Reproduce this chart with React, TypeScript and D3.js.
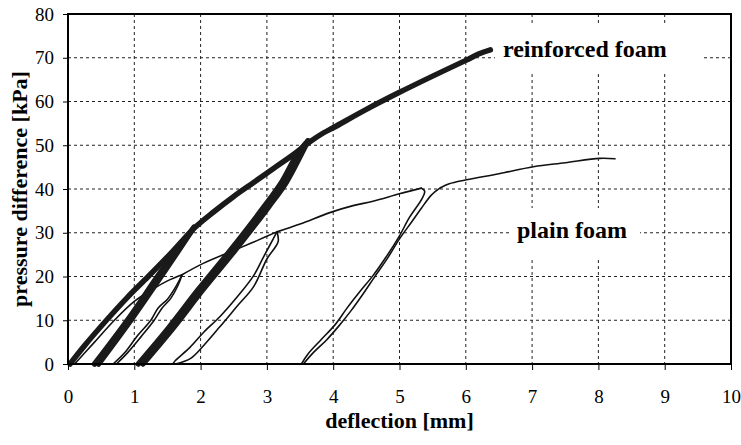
import React, { useEffect, useRef } from 'react';
import * as d3 from 'd3';

type Pt = [number, number];

const xTicks = [0, 1, 2, 3, 4, 5, 6, 7, 8, 9, 10];
const yTicks = [0, 10, 20, 30, 40, 50, 60, 70, 80];

// reinforced foam (thick traces)
const reinforcedEnvelope: Pt[] = [[0.03, 0], [0.25, 4.2], [0.58, 10], [0.9, 15.3], [1.21, 20], [1.55, 25.3], [1.9, 31], [2.2, 34.8], [2.5, 38.3], [2.8, 41.5], [3.1, 44.7], [3.4, 47.9], [3.65, 50.8], [3.85, 52.8], [4.0, 54.0], [4.5, 58.2], [5.0, 62.1], [5.5, 65.8], [6.0, 69.4], [6.2, 70.9], [6.37, 71.8]];
const reinforcedUnload1: Pt[] = [[1.9, 31.2], [1.42, 21.5], [0.92, 10.5], [0.4, 0]];
const reinforcedReload1: Pt[] = [[0.46, 0], [0.97, 10.5], [1.47, 21.5], [1.9, 31.2]];
const reinforcedUnload2: Pt[] = [[3.62, 51], [3.46, 48], [3.22, 41.5], [2.96, 36], [2.45, 26], [1.96, 16.9], [1.52, 8.3], [1.06, 0]];
const reinforcedReload2: Pt[] = [[1.13, 0], [1.59, 8.3], [2.03, 16.9], [2.52, 26], [3.03, 36], [3.29, 41.5], [3.52, 48], [3.62, 51]];

// plain foam (thin traces)
const plainLoad1: Pt[] = [[0.1, 0], [0.4, 5], [0.7, 10], [1.0, 14.3], [1.3, 17.3], [1.5, 19], [1.72, 20.4]];
const plainUnload1: Pt[] = [[1.72, 20.4], [1.62, 17.5], [1.5, 14.8], [1.36, 12.8], [1.25, 10], [1.05, 6.5], [0.85, 2.5], [0.68, 0]];
const plainReload1: Pt[] = [[0.73, 0], [0.9, 2.6], [1.1, 6.2], [1.3, 10], [1.42, 12.8], [1.55, 15], [1.66, 18], [1.72, 20.4]];
const plainLoad2: Pt[] = [[1.72, 20.4], [2.04, 23], [2.54, 26.2], [2.85, 28.2], [3.15, 30.2]];
const plainUnload2: Pt[] = [[3.15, 30.2], [3.17, 28], [3.0, 24], [2.8, 17.7], [2.55, 13.2], [2.29, 8.5], [2.05, 4.3], [1.85, 1.3], [1.62, 0]];
const plainReload2: Pt[] = [[1.58, 0], [1.62, 0.8], [1.84, 3.8], [2.05, 7.3], [2.29, 10.8], [2.55, 15.3], [2.8, 20.2], [2.95, 24.5], [3.06, 27.6], [3.15, 30.2]];
const plainLoad3: Pt[] = [[3.15, 30.2], [3.5, 32], [3.95, 34.6], [4.3, 36.2], [4.6, 37.2], [5.0, 38.9], [5.33, 40.2]];
const plainUnload3: Pt[] = [[5.33, 40.2], [5.38, 39.5], [5.34, 37.8], [5.15, 33.5], [5.0, 29.3], [4.8, 24.5], [4.6, 20.2], [4.4, 16.5], [4.2, 12.6], [4.03, 9], [3.82, 5.6], [3.62, 2.3], [3.52, 0]];
const plainReload3: Pt[] = [[3.55, 0], [3.7, 2.6], [3.9, 5.5], [4.08, 8.6], [4.27, 12.2], [4.45, 16], [4.62, 19.8], [4.82, 24.2], [5.0, 28.6], [5.18, 32.4], [5.33, 35.6], [5.48, 38.6], [5.62, 40.3]];
const plainLoad4: Pt[] = [[5.62, 40.3], [5.75, 41.2], [6.01, 42.1], [6.5, 43.5], [7.02, 45.1], [7.5, 46], [8.02, 47.0], [8.25, 46.9]];

const reinforcedSeries = [reinforcedEnvelope, reinforcedUnload1, reinforcedReload1, reinforcedUnload2, reinforcedReload2];
const plainSeries = [plainLoad1, plainUnload1, plainReload1, plainLoad2, plainUnload2, plainReload2, plainLoad3, plainUnload3, plainReload3, plainLoad4];

export default function App() {
  const svgRef = useRef<SVGSVGElement>(null);
  const width = 741;
  const height = 445;
  const left = 68, right = 731, top = 14, bottom = 364;

  function draw(elm: SVGSVGElement) {
    const svg = d3.select(elm);
    svg.selectAll('*').remove();

    const x = d3.scaleLinear().domain([0, 10]).range([left, right]);
    const y = d3.scaleLinear().domain([0, 80]).range([bottom, top]);
    const serif = 'Liberation Serif';

    // grid
    const grid = svg.append('g').attr('stroke', '#222').attr('stroke-width', 1).attr('stroke-dasharray', '3,3');
    grid.selectAll('line.v').data(xTicks.slice(1, -1)).enter().append('line')
      .attr('x1', d => x(d)).attr('x2', d => x(d)).attr('y1', top).attr('y2', bottom);
    grid.selectAll('line.h').data(yTicks.slice(1, -1)).enter().append('line')
      .attr('x1', left).attr('x2', right).attr('y1', d => y(d)).attr('y2', d => y(d));

    // label backgrounds hide the grid
    svg.append('rect').attr('x', 495).attr('y', 25).attr('width', 206).attr('height', 47).attr('fill', 'white');
    svg.append('rect').attr('x', 510).attr('y', 208).attr('width', 130).attr('height', 49).attr('fill', 'white');

    const line = d3.line<Pt>().x(d => x(d[0])).y(d => y(d[1])).curve(d3.curveCatmullRom.alpha(0.5));

    svg.append('g').selectAll('path').data(plainSeries).enter().append('path')
      .attr('d', d => line(d))
      .attr('fill', 'none').attr('stroke', '#111').attr('stroke-width', 1.6)
      .attr('stroke-linejoin', 'round').attr('stroke-linecap', 'round');

    svg.append('g').selectAll('path').data(reinforcedSeries).enter().append('path')
      .attr('d', d => line(d))
      .attr('fill', 'none').attr('stroke', '#1a1a1a').attr('stroke-width', 5.5)
      .attr('stroke-linejoin', 'round').attr('stroke-linecap', 'round');

    // frame
    svg.append('rect').attr('x', left).attr('y', top).attr('width', right - left).attr('height', bottom - top)
      .attr('fill', 'none').attr('stroke', '#000').attr('stroke-width', 2);

    // ticks
    const xAxis = svg.append('g').attr('transform', `translate(0,${bottom})`)
      .attr('font-family', serif).attr('font-size', 19)
      .call(d3.axisBottom(x).tickValues(xTicks).tickSize(6).tickPadding(20).tickFormat(d3.format('d')));
    xAxis.attr('font-family', serif).attr('font-size', 19);
    xAxis.select('.domain').remove();
    xAxis.selectAll('line').attr('stroke', '#000').attr('stroke-width', 1);
    xAxis.selectAll('text').attr('fill', '#000');

    const yAxis = svg.append('g').attr('transform', `translate(${left},0)`)
      .call(d3.axisLeft(y).tickValues(yTicks).tickSize(5).tickPadding(9).tickFormat(d3.format('d')));
    yAxis.attr('font-family', serif).attr('font-size', 19);
    yAxis.select('.domain').remove();
    yAxis.selectAll('line').attr('stroke', '#000').attr('stroke-width', 1);
    yAxis.selectAll('text').attr('fill', '#000');

    // titles
    svg.append('text').text('deflection [mm]')
      .attr('x', (left + right) / 2).attr('y', 428).attr('text-anchor', 'middle')
      .attr('font-family', serif).attr('font-weight', 'bold').attr('font-size', 22);
    svg.append('text').text('pressure difference [kPa]')
      .attr('transform', `translate(27,${(top + bottom) / 2}) rotate(-90)`).attr('text-anchor', 'middle')
      .attr('font-family', serif).attr('font-weight', 'bold').attr('font-size', 22);

    svg.append('text').text('reinforced foam')
      .attr('x', 503).attr('y', 57)
      .attr('font-family', serif).attr('font-weight', 'bold').attr('font-size', 24);
    svg.append('text').text('plain foam')
      .attr('x', 517).attr('y', 238)
      .attr('font-family', serif).attr('font-weight', 'bold').attr('font-size', 24);
  }

  useEffect(() => {
    if (svgRef.current) {
      draw(svgRef.current);
    }
  }, []);

  return (
    <svg ref={svgRef} width={width} height={height}
      style={{ position: 'absolute', left: 0, top: 0, background: 'white' }} />
  );
}
